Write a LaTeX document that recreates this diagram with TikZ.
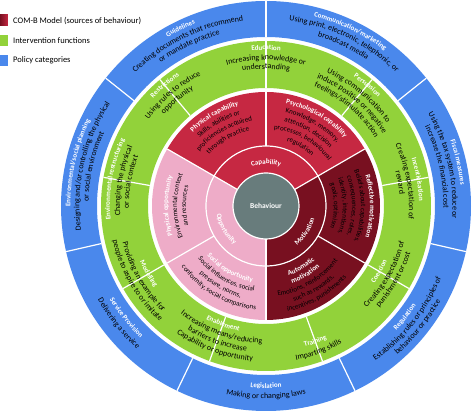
\documentclass[tikz,border=0pt]{standalone}
\usepackage{fontspec}
\setmainfont{Carlito}
\usetikzlibrary{decorations.text}

\definecolor{azulpol}{RGB}{74,136,236}
\definecolor{verdeint}{RGB}{146,210,58}
\definecolor{rojocap}{RGB}{198,40,66}
\definecolor{rosaopo}{RGB}{238,172,200}
\definecolor{granamot}{RGB}{120,16,32}
\definecolor{griscen}{RGB}{104,124,124}

% formatos de texto
\newcommand{\tazul}{\fontsize{7}{8}\selectfont\bfseries\color{white}}
\newcommand{\dazul}{\fontsize{8}{9}\selectfont\color{black}}
\newcommand{\tcom}{\fontsize{7}{8}\selectfont\bfseries\color{white}}
\newcommand{\dcom}{\fontsize{7}{8}\selectfont\color{black}}

% texto curvado: angulo, radio, formato, texto
% arriba: se lee en sentido horario, abajo: antihorario
\newcommand{\arcarriba}[4]{\path[decorate,decoration={text along path,text align=center,text={|#3|#4}}]
  (#1+75:#2) arc[start angle=#1+75,end angle=#1-75,radius=#2];}
\newcommand{\arcabajo}[4]{\path[decorate,decoration={text along path,text align=center,text={|#3|#4}}]
  (#1-75:#2) arc[start angle=#1-75,end angle=#1+75,radius=#2];}

\begin{document}
\begin{tikzpicture}[x=1pt,y=1pt,
  separa/.style={white,line width=1.2pt},
  leyenda/.style={anchor=west,inner sep=0pt,font=\fontsize{8.5}{10}\selectfont}]

 % --- MARCO (mismas proporciones que la imagen) ---
 \useasboundingbox (-266,-208) rectangle (208,206);

 % --- ANILLO AZUL: categorias de politica ---
 \fill[azulpol,even odd rule] (0,0) circle (205) circle (169);
 \foreach \k in {0,...,6}
   \draw[separa] (90-\k*51.4286:169) -- (90-\k*51.4286:205);

 % --- ANILLO VERDE: funciones de intervencion ---
 \fill[verdeint,even odd rule] (0,0) circle (165) circle (118);
 \foreach \a in {10,50,...,330}
   \draw[separa] (\a:118) -- (\a:165);

 % --- COM-B: capacidad, oportunidad, motivacion ---
 \fill[rojocap] (0,0) -- (30:114) arc[start angle=30,end angle=150,radius=114] -- cycle;
 \fill[rosaopo] (0,0) -- (150:114) arc[start angle=150,end angle=270,radius=114] -- cycle;
 \fill[granamot] (0,0) -- (270:114) arc[start angle=270,end angle=390,radius=114] -- cycle;
 \draw[separa] (0,0) circle (60);
 \foreach \a in {30,150,270} \draw[separa] (\a:33) -- (\a:114);
 \foreach \a in {90,210,330} \draw[separa] (\a:60) -- (\a:114);

 % centro
 \filldraw[griscen,draw=white,line width=1.2pt] (0,0) circle (33);
 \node[text=white,font=\fontsize{7.5}{9}\selectfont\bfseries] (behaviour) at (0,0) {Behaviour};

 % --- TEXTOS AZULES ---
 \arcarriba{64.29}{195.5}{\tazul}{Communication/marketing}
 \arcarriba{64.29}{186.5}{\dazul}{Using print, electronic, telephonic, or}
 \arcarriba{64.29}{177.5}{\dazul}{broadcast media}
 \arcarriba{115.71}{195.5}{\tazul}{Guidelines}
 \arcarriba{115.71}{186.5}{\dazul}{Creating documents that recommend}
 \arcarriba{115.71}{177.5}{\dazul}{or mandate practice}
 \arcarriba{12.86}{195.5}{\tazul}{Fiscal measures}
 \arcarriba{12.86}{186.5}{\dazul}{Using the tax system to reduce or}
 \arcarriba{12.86}{177.5}{\dazul}{increase the financial cost}
 \arcarriba{167.14}{195.5}{\tazul}{Environmental/social planning}
 \arcarriba{167.14}{186.5}{\dazul}{Designing and/or controlling the physical}
 \arcarriba{167.14}{177.5}{\dazul}{or social environment}
 \arcabajo{-38.57}{180}{\tazul}{Regulation}
 \arcabajo{-38.57}{189.5}{\dazul}{Establishing rules or principles of}
 \arcabajo{-38.57}{198.5}{\dazul}{behaviour or practice}
 \arcabajo{-90}{182}{\tazul}{Legislation}
 \arcabajo{-90}{192.5}{\dazul}{Making or changing laws}
 \arcabajo{-141.43}{182}{\tazul}{Service Provision}
 \arcabajo{-141.43}{192.5}{\dazul}{Delivering a service}

 % --- TEXTOS VERDES ---
 \arcarriba{90}{156}{\tazul}{Education}
 \arcarriba{90}{146}{\dazul}{Increasing knowledge or}
 \arcarriba{90}{137}{\dazul}{understanding}
 \arcarriba{50}{156}{\tazul}{Persuasion}
 \arcarriba{50}{146.5}{\dazul}{Using communication to}
 \arcarriba{50}{137.5}{\dazul}{induce positive or negative}
 \arcarriba{50}{128.5}{\dazul}{feelings/stimulate action}
 \arcarriba{10}{153}{\tazul}{Incentivisation}
 \arcarriba{10}{143}{\dazul}{Creating expectation of}
 \arcarriba{10}{134}{\dazul}{reward}
 \arcarriba{170}{156}{\tazul}{Environmental restructuring}
 \arcarriba{170}{146}{\dazul}{Changing the physical}
 \arcarriba{170}{137}{\dazul}{or social context}
 \arcarriba{130}{156}{\tazul}{Restrictions}
 \arcarriba{130}{146}{\dazul}{Using rules to reduce}
 \arcarriba{130}{137}{\dazul}{opportunity}
 \arcabajo{-30}{133}{\tazul}{Coercion}
 \arcabajo{-30}{143}{\dazul}{Creating expectation of}
 \arcabajo{-30}{152}{\dazul}{punishment or cost}
 \arcabajo{-70}{146}{\tazul}{Training}
 \arcabajo{-70}{157}{\dazul}{Imparting skills}
 \arcabajo{-110}{128}{\tazul}{Enablement}
 \arcabajo{-110}{137.5}{\dazul}{Increasing means/reducing}
 \arcabajo{-110}{146.5}{\dazul}{barriers to increase}
 \arcabajo{-110}{155.5}{\dazul}{Capability or opportunity}
 \arcabajo{210}{138}{\tazul}{Modelling}
 \arcabajo{210}{148}{\dazul}{Providing an example for}
 \arcabajo{210}{157}{\dazul}{people to aspire to or imitate}

 % --- TEXTOS COM-B ---
 \arcarriba{120}{104}{\tcom}{Physical capability}
 \arcarriba{120}{95}{\dcom}{Skills, abilities or}
 \arcarriba{120}{86}{\dcom}{proficiencies acquired}
 \arcarriba{120}{77}{\dcom}{through practice}
 \arcarriba{60}{104}{\tcom}{Psychological capability}
 \arcarriba{60}{95}{\dcom}{Knowledge, memory,}
 \arcarriba{60}{86}{\dcom}{attention, decision}
 \arcarriba{60}{77}{\dcom}{processes, behavioural}
 \arcarriba{60}{68}{\dcom}{regulation}
 \arcarriba{0}{104}{\tcom}{Reflective motivation}
 \arcarriba{0}{95}{\dcom}{Beliefs about capabilities,}
 \arcarriba{0}{86}{\dcom}{consequences, roles,}
 \arcarriba{0}{77}{\dcom}{identity, intentions,}
 \arcarriba{0}{68}{\dcom}{goals, optimism}
 \arcarriba{180}{98}{\tcom}{Physical opportunity}
 \arcarriba{180}{89}{\dcom}{Environmental context}
 \arcarriba{180}{80}{\dcom}{and resources}
 \arcabajo{-60}{73}{\tcom}{Automatic}
 \arcabajo{-60}{81.5}{\tcom}{motivation}
 \arcabajo{-60}{90.5}{\dcom}{Emotions, reinforcement}
 \arcabajo{-60}{99}{\dcom}{such as rewards,}
 \arcabajo{-60}{107.5}{\dcom}{incentives, punishments}
 \arcabajo{240}{77}{\tcom}{Social opportunity}
 \arcabajo{240}{86}{\dcom}{Social influences, social}
 \arcabajo{240}{95}{\dcom}{pressure, norms,}
 \arcabajo{240}{104}{\dcom}{conformity, social comparisons}

 % anillo interior
 \arcarriba{90}{42}{\tazul}{Capability}
 \arcabajo{210}{50}{\tazul}{Opportunity}
 \arcabajo{-33}{50}{\tazul}{Motivation}

 % --- LEYENDA ---
 \shade[left color=granamot,right color=rojocap] (-266,180) rectangle (-258,191);
 \fill[verdeint] (-266,160) rectangle (-258,171);
 \fill[azulpol] (-266,140) rectangle (-258,151);
 \node[leyenda] (leycom) at (-253,185.5) {COM-B Model (sources of behaviour)};
 \node[leyenda] (leyint) at (-253,165.5) {Intervention functions};
 \node[leyenda] (leypol) at (-253,145.5) {Policy categories};

\end{tikzpicture}
\end{document}
